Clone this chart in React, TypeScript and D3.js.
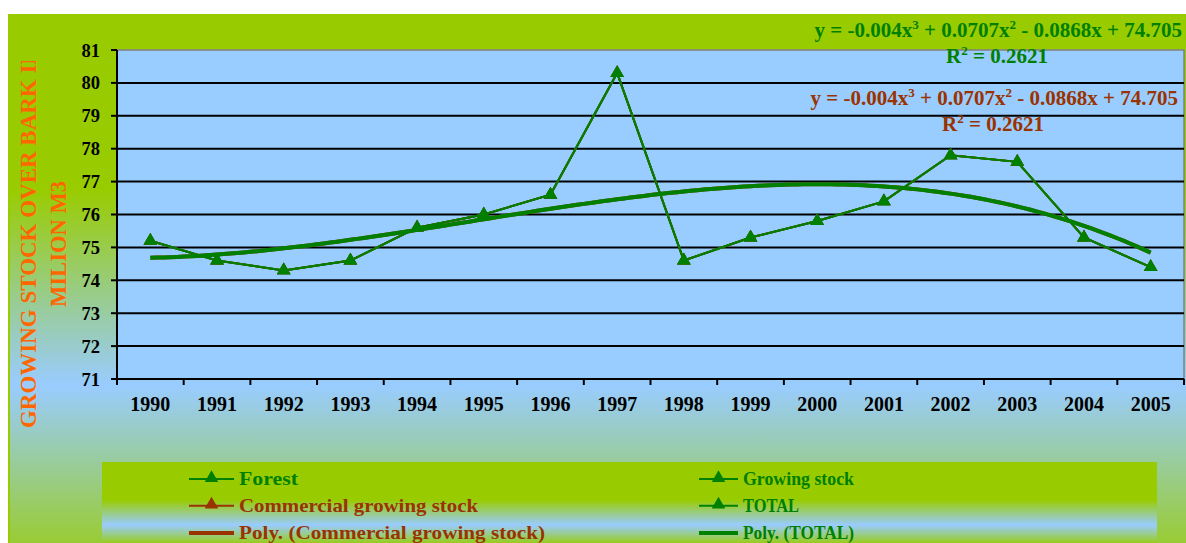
import React from "react";
import * as d3 from "d3";

const years = ["1990","1991","1992","1993","1994","1995","1996","1997","1998","1999","2000","2001","2002","2003","2004","2005"];
const total = [75.2, 74.6, 74.3, 74.6, 75.6, 76.0, 76.6, 80.3, 74.6, 75.3, 75.8, 76.4, 77.8, 77.6, 75.3, 74.4];
const forest = total;
const growingStock = total;
const commercial = total;
const yTicks = [71, 72, 73, 74, 75, 76, 77, 78, 79, 80, 81];
const legendItems = [
  { label: "Forest", color: "#008000", marker: true, col: 0, row: 0, w: 59 },
  { label: "Growing stock", color: "#008000", marker: true, col: 1, row: 0, w: 111 },
  { label: "Commercial growing stock", color: "#993300", marker: true, col: 0, row: 1, w: 239 },
  { label: "TOTAL", color: "#008000", marker: true, col: 1, row: 1, w: 56 },
  { label: "Poly. (Commercial growing stock)", color: "#993300", marker: false, col: 0, row: 2, w: 306 },
  { label: "Poly. (TOTAL)", color: "#008000", marker: false, col: 1, row: 2, w: 111 },
];
const equationTerms = ["-0.004", "0.0707", "0.0868", "74.705"];
const rSquared = "0.2621";

// least-squares cubic fit (Excel "Poly." order 3 trendline)
function cubicFit(ys: number[]) {
  const xs = ys.map((_, i) => i + 1);
  const m = 4;
  const A: number[][] = [];
  for (let r = 0; r < m; r++) {
    const row: number[] = [];
    for (let c = 0; c < m; c++) row.push(d3.sum(xs, (x) => Math.pow(x, r + c)));
    row.push(d3.sum(xs, (x, i) => Math.pow(x, r) * ys[i]));
    A.push(row);
  }
  for (let i = 0; i < m; i++) {
    let p = i;
    for (let k = i + 1; k < m; k++) if (Math.abs(A[k][i]) > Math.abs(A[p][i])) p = k;
    [A[i], A[p]] = [A[p], A[i]];
    for (let k = i + 1; k < m; k++) {
      const f = A[k][i] / A[i][i];
      for (let j = i; j <= m; j++) A[k][j] -= f * A[i][j];
    }
  }
  const c = new Array(m).fill(0);
  for (let i = m - 1; i >= 0; i--) {
    let s = A[i][m];
    for (let j = i + 1; j < m; j++) s -= A[i][j] * c[j];
    c[i] = s / A[i][i];
  }
  return (x: number) => c[0] + c[1] * x + c[2] * x * x + c[3] * x * x * x;
}

const W = 1186, H = 543;
const plot = { left: 117, right: 1184, top: 50, bottom: 379 };
const serif = "'Liberation Serif', 'Times New Roman', serif";

export default function App() {
  const x = d3.scaleBand().domain(years).range([plot.left, plot.right]);
  const y = d3.scaleLinear().domain([71, 81]).range([plot.bottom, plot.top]);
  const cx = (i: number) => (x(years[i]) as number) + x.bandwidth() / 2;
  const line = d3.line<number>().x((_, i) => cx(i)).y((v) => y(v));
  const tri = d3.symbol(d3.symbolTriangle, 80)();
  const fit = cubicFit(total);
  const trendX = d3.range(1, 16.001, 0.1);
  const xLin = d3.scaleLinear().domain([1, 16]).range([cx(0), cx(15)]);
  const trend = d3.line<number>().x((t) => xLin(t)).y((t) => y(fit(t)))(trendX);

  const seriesList = [
    { data: forest, color: "#008000" },
    { data: growingStock, color: "#008000" },
    { data: commercial, color: "#993300" },
    { data: total, color: "#008000" },
  ];
  const colX = [189, 699];
  const rowY = [479, 505.7, 533];

  const eq = (color: string, xr: number, yb: number, yr: number, xc: number) => (
    <g fill={color} fontFamily={serif} fontWeight="bold">
      <text x={xr} y={yb} fontSize={21} textAnchor="end">
        {"y = " + equationTerms[0] + "x"}
        <tspan dy={-8} fontSize={13}>3</tspan>
        <tspan dy={8}>{" + " + equationTerms[1] + "x"}</tspan>
        <tspan dy={-8} fontSize={13}>2</tspan>
        <tspan dy={8}>{" - " + equationTerms[2] + "x + " + equationTerms[3]}</tspan>
      </text>
      <text x={xc} y={yr} fontSize={21} textAnchor="middle">
        R<tspan dy={-8} fontSize={13}>2</tspan>
        <tspan dy={8}>{" = " + rSquared}</tspan>
      </text>
    </g>
  );

  return (
    <svg width={W} height={H} style={{ position: "absolute", left: 0, top: 0 }}>
      <defs>
        <linearGradient id="outerBg" gradientUnits="userSpaceOnUse" x1="0" y1="14" x2="0" y2="560">
          <stop offset="0" stopColor="#99CC00" />
          <stop offset={(190 - 14) / 546} stopColor="#99CC00" />
          <stop offset={(385 - 14) / 546} stopColor="#99CCFF" />
          <stop offset={(543 - 14) / 546} stopColor="#99CC33" />
          <stop offset="1" stopColor="#99CC00" />
        </linearGradient>
        <linearGradient id="legendBg" gradientUnits="userSpaceOnUse" x1="0" y1="462" x2="0" y2="550">
          <stop offset="0" stopColor="#99CC00" />
          <stop offset={(500 - 462) / 88} stopColor="#99CC00" />
          <stop offset={(525 - 462) / 88} stopColor="#99CCFF" />
          <stop offset={(545 - 462) / 88} stopColor="#99CC00" />
          <stop offset="1" stopColor="#99CC00" />
        </linearGradient>
        <clipPath id="titleClip">
          <rect x={0} y={61} width={100} height={400} />
        </clipPath>
      </defs>
      <rect x={0} y={0} width={W} height={H} fill="#ffffff" />
      <rect x={8} y={14} width={W} height={H} fill="url(#outerBg)" />
      <line x1={9} x2={9} y1={14} y2={H} stroke="#99CC00" strokeWidth={2} />

      {/* plot area */}
      <rect x={plot.left} y={plot.top} width={plot.right - plot.left} height={plot.bottom - plot.top} fill="#99CCFF" stroke="#808080" strokeWidth={1.5} />
      {yTicks.filter((t) => t > 71 && t < 81).map((t) => (
        <line key={t} x1={plot.left} x2={plot.right} y1={y(t)} y2={y(t)} stroke="#000" strokeWidth={2} />
      ))}
      {/* axes */}
      <line x1={plot.left} x2={plot.left} y1={plot.top} y2={plot.bottom} stroke="#000" strokeWidth={2} />
      <line x1={plot.left} x2={plot.right} y1={plot.bottom} y2={plot.bottom} stroke="#000" strokeWidth={2} />
      {yTicks.map((t) => (
        <g key={t}>
          <line x1={plot.left - 6} x2={plot.left} y1={y(t)} y2={y(t)} stroke="#000" strokeWidth={2} />
          <text x={100} y={y(t) + 6.5} textAnchor="end" fontFamily={serif} fontWeight="bold" fontSize={18.5} fill="#000">{t}</text>
        </g>
      ))}
      {years.map((yr, i) => (
        <g key={yr}>
          <line x1={x(yr) as number} x2={x(yr) as number} y1={plot.bottom} y2={plot.bottom + 6} stroke="#000" strokeWidth={2} />
          <text x={cx(i)} y={411} textAnchor="middle" fontFamily={serif} fontWeight="bold" fontSize={20} fill="#000">{yr}</text>
        </g>
      ))}
      <line x1={plot.right} x2={plot.right} y1={plot.bottom} y2={plot.bottom + 6} stroke="#000" strokeWidth={2} />

      {/* series */}
      {seriesList.map((s, si) => (
        <g key={si}>
          <path d={line(s.data) as string} fill="none" stroke={s.color} strokeWidth={2} />
          {s.data.map((v, i) => (
            <path key={i} d={tri as string} transform={`translate(${cx(i)},${y(v)})`} fill={s.color} />
          ))}
          {si === 2 && <path d={trend as string} fill="none" stroke="#993300" strokeWidth={4} />}
        </g>
      ))}
      <path d={trend as string} fill="none" stroke="#008000" strokeWidth={4} />

      {/* equations */}
      {eq("#008000", 1182, 36.7, 62.7, 997)}
      {eq("#993300", 1178, 105, 130.7, 993)}

      {/* axis title */}
      <g clipPath="url(#titleClip)" fill="#FF6600" fontFamily={serif} fontWeight="bold" fontSize={24}>
        <text transform="translate(36,238) rotate(-90)" textAnchor="middle" textLength={380} lengthAdjust="spacingAndGlyphs">GROWING STOCK OVER BARK IN</text>
        <text transform="translate(66,244) rotate(-90)" textAnchor="middle" textLength={126} lengthAdjust="spacingAndGlyphs">MILION M3</text>
      </g>

      {/* legend */}
      <rect x={102} y={462} width={1055} height={100} fill="url(#legendBg)" />
      {legendItems.map((it) => {
        const x0 = colX[it.col];
        const yy = rowY[it.row];
        const lw = it.col === 0 ? 45 : 39;
        return (
          <g key={it.label}>
            <line x1={x0} x2={x0 + lw} y1={yy} y2={yy} stroke={it.color} strokeWidth={it.marker ? 2 : 4} />
            {it.marker && <path d={tri as string} transform={`translate(${x0 + lw / 2},${yy - 1})`} fill={it.color} />}
            <text x={x0 + lw + 5} y={yy + 6} fontFamily={serif} fontWeight="bold" fontSize={19} fill={it.color} textLength={it.w} lengthAdjust="spacingAndGlyphs">{it.label}</text>
          </g>
        );
      })}
    </svg>
  );
}
